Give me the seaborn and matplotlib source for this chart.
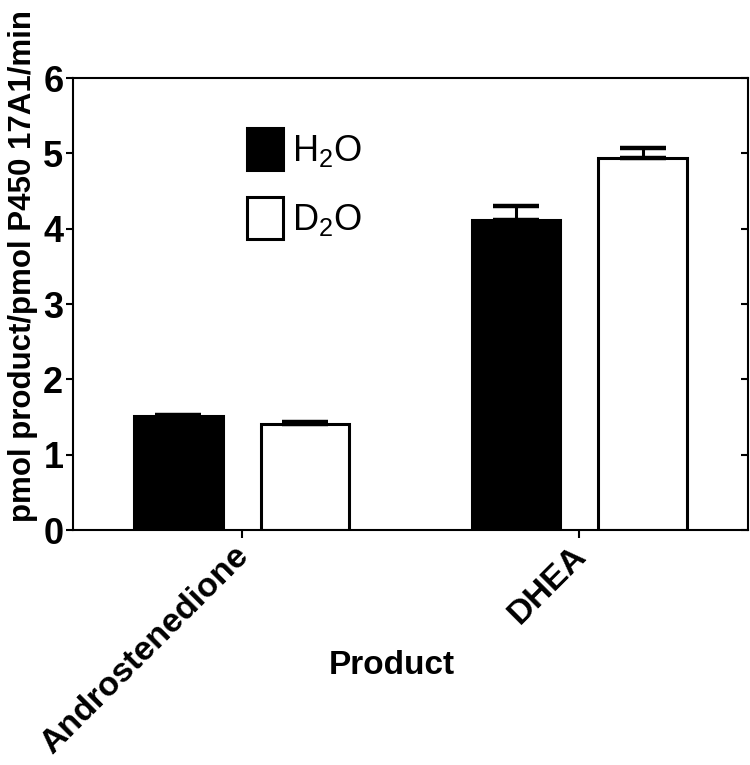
import pandas as pd
import numpy as np
import matplotlib
matplotlib.use('Agg')
import matplotlib.pyplot as plt
import matplotlib.transforms as mtrans
import seaborn as sns

products = ['Androstenedione', 'DHEA']
solvents = ['H$_2$O', 'D$_2$O']
h2o_vals = [1.51, 4.12]
d2o_vals = [1.41, 4.94]
h2o_err = [0.02, 0.18]
d2o_err = [0.03, 0.13]

df = pd.DataFrame({
    'Product': products * 2,
    'Solvent': [solvents[0]] * 2 + [solvents[1]] * 2,
    'Rate': h2o_vals + d2o_vals,
})

sns.set_style('white')
plt.rcParams['font.family'] = ['Liberation Sans', 'DejaVu Sans']
plt.rcParams['mathtext.fontset'] = 'custom'
plt.rcParams['mathtext.rm'] = 'Liberation Sans'
plt.rcParams['mathtext.it'] = 'Liberation Sans'
plt.rcParams['text.color'] = 'black'
plt.rcParams['axes.labelcolor'] = 'black'
plt.rcParams['xtick.color'] = 'black'
plt.rcParams['ytick.color'] = 'black'

fig = plt.figure(figsize=(7.5, 7.65), dpi=100)
ax = fig.add_axes([0.0973, 0.307, 0.9, 0.591])

sns.barplot(data=df, x='Product', y='Rate', hue='Solvent', order=products,
            hue_order=solvents, palette=['black', 'white'], width=0.75, gap=0.3,
            edgecolor='black', linewidth=2.2, errorbar=None, ax=ax)

#upper error bars only
for cont, errs in zip(ax.containers, [h2o_err, d2o_err]):
    for bar, e in zip(cont, errs):
        xc = bar.get_x() + bar.get_width() / 2
        ax.errorbar(xc, bar.get_height(), yerr=[[0], [e]], fmt='none', ecolor='black',
                    elinewidth=2.2, capsize=16.5, capthick=3.2, zorder=1)

ax.set_ylim(0, 6)
ax.set_xlim(-0.5, 1.5)
ax.set_yticks(range(7))

for s in ax.spines.values():
    s.set_visible(True)
    s.set_color('black')
    s.set_linewidth(1.5)

ax.tick_params(axis='y', which='both', left=True, right=True, direction='out', length=5, width=1.5,
               labelsize=26, pad=2)
ax.tick_params(axis='x', bottom=True, direction='out', length=6, width=1.5, labelsize=24.5, pad=1)
for lab in ax.get_yticklabels():
    lab.set_fontweight('bold')
ax.set_xticks(range(len(products)))
ax.set_xticklabels(products, rotation=45, ha='right', rotation_mode='anchor', fontweight='bold')
# nudge rotated labels a little to the left
shift = mtrans.ScaledTranslation(-6 / 72, 0, fig.dpi_scale_trans)
for lab in ax.get_xticklabels():
    lab.set_transform(lab.get_transform() + shift)

# right side ticks point inward
for t in ax.yaxis.get_major_ticks():
    t.tick2line.set_marker(matplotlib.lines.TICKLEFT)

ax.set_xlabel('Product', fontsize=24, fontweight='bold')
ax.xaxis.set_label_coords(0.473, -0.265)
ax.set_ylabel('pmol product/pmol P450 17A1/min', fontsize=22.5, fontweight='bold')
ax.yaxis.set_label_coords(-0.052, 0.584)

leg = ax.legend(loc='upper left', bbox_to_anchor=(0.258, 0.889), frameon=False, fontsize=26,
                handlelength=1.0, handleheight=1.4, handletextpad=0.25, labelspacing=0.75,
                borderpad=0, borderaxespad=0)
for h in leg.legend_handles:
    h.set_edgecolor('black')
    h.set_linewidth(2.2)

fig.savefig('out.png', dpi=100)
